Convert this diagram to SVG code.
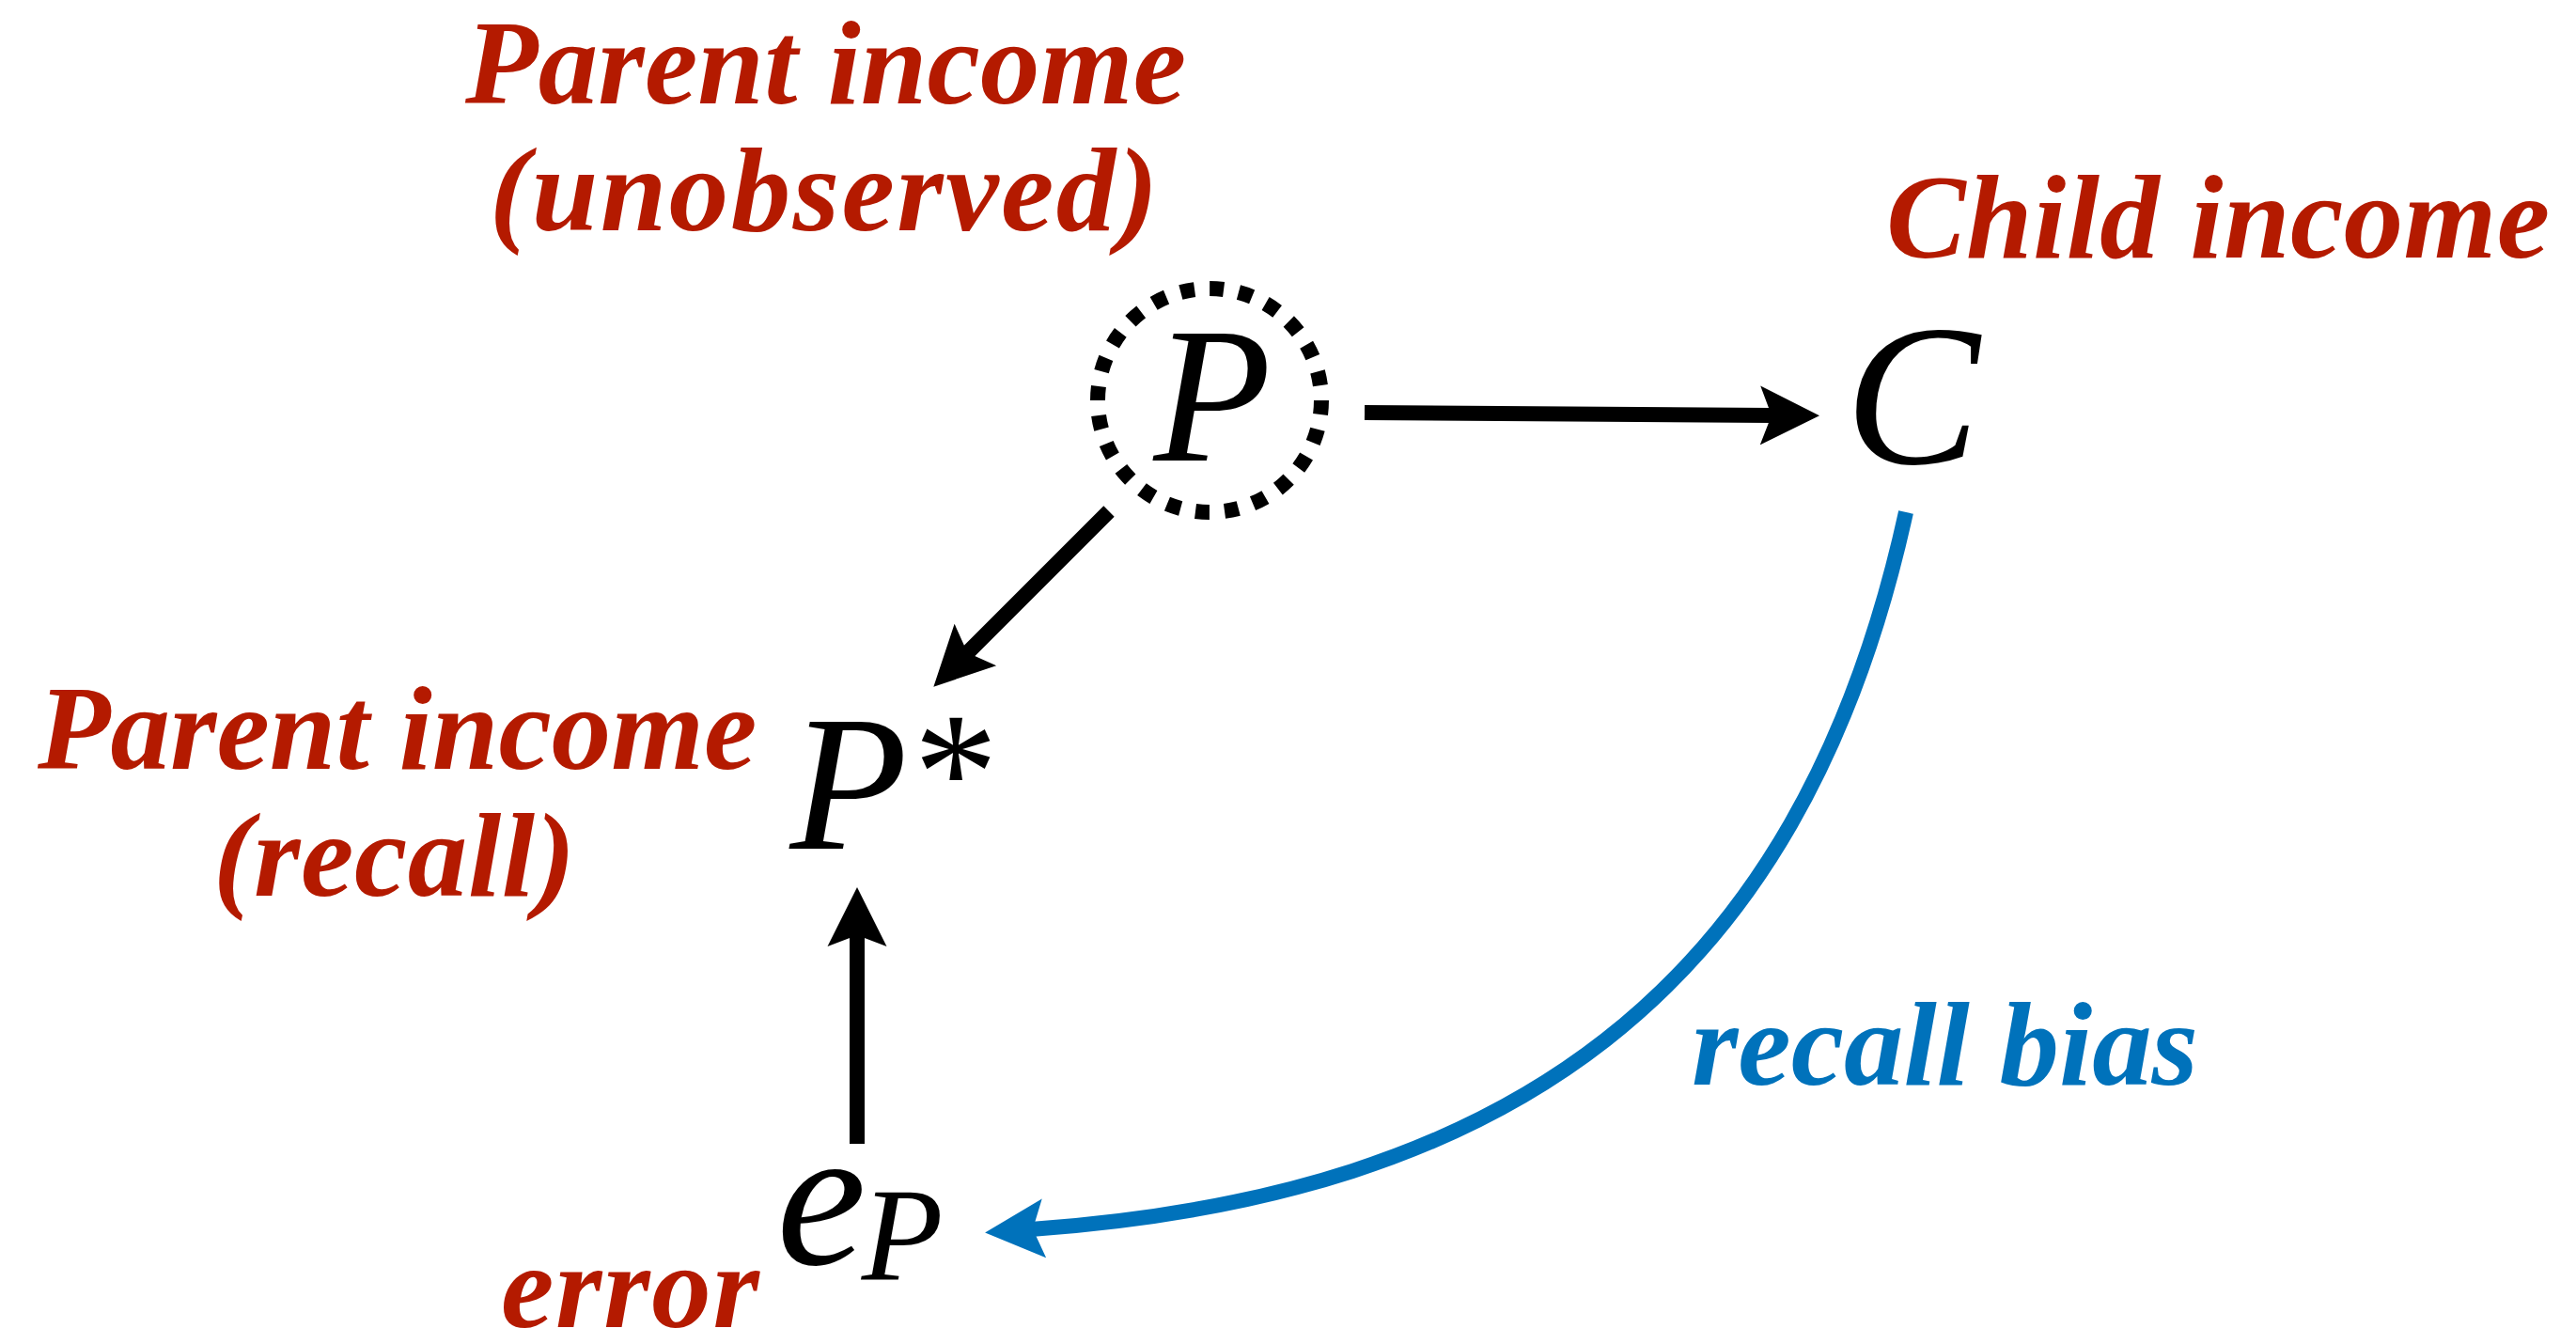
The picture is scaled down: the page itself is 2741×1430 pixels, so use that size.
<svg xmlns="http://www.w3.org/2000/svg" width="2741" height="1430" viewBox="0 0 2741 1430">
  <defs>
    <style>
      .lbl { font-family: "Liberation Serif", "Times New Roman", serif; font-weight: bold; font-style: italic; font-size: 127px; fill: #B41A00; }
      .blue { fill: #0072BB; }
      .math { font-family: "Liberation Serif", "Times New Roman", serif; font-style: italic; fill: #000; }
      .edge { fill: none; stroke: #000; stroke-width: 16; }
      .bias { fill: none; stroke: #0072BB; stroke-width: 16; }
    </style>
    <marker id="ahB" markerUnits="userSpaceOnUse" markerWidth="70" markerHeight="70" viewBox="0 -35 70 70" refX="14" refY="0" orient="auto">
      <path d="M0,-31.5 L63,0 L0,31.5 L12,0 Z" fill="#000"/>
    </marker>
    <marker id="ahU" markerUnits="userSpaceOnUse" markerWidth="70" markerHeight="70" viewBox="0 -35 70 70" refX="14" refY="0" orient="auto">
      <path d="M0,-31.5 L63,0 L0,31.5 L12,0 Z" fill="#0072BB"/>
    </marker>
  </defs>
  <rect width="2741" height="1430" fill="#fff"/>

  <g id="connectors">
    <path class="edge" d="M1452,439 L1887,442" marker-end="url(#ahB)"/>
    <path class="edge" d="M1180,544 L1028,696" marker-end="url(#ahB)"/>
    <path class="edge" d="M912,1217 L912,993" marker-end="url(#ahB)"/>
    <path class="bias" d="M2028,545 C1915,1060 1600,1272 1097,1308" marker-end="url(#ahU)"/>
  </g>

  <g id="node-P">
    <circle cx="1287" cy="426" r="119" fill="none" stroke="#000" stroke-width="16" stroke-dasharray="15 16.15"/>
    <text class="math" x="1290" y="490" font-size="205" text-anchor="middle">P</text>
    <text class="lbl" x="495" y="110" textLength="767">Parent income</text>
    <text class="lbl" x="521" y="245" textLength="711">(unobserved)</text>
  </g>

  <g id="node-C">
    <text class="math" x="2035" y="493" font-size="215" text-anchor="middle">C</text>
    <text class="lbl" x="2007" y="274" textLength="706">Child income</text>
  </g>

  <g id="node-Pstar">
    <text class="math" x="903" y="903" font-size="205" text-anchor="middle">P</text>
    <text x="1017" y="882" font-family="Liberation Serif, serif" font-size="180" text-anchor="middle" fill="#000">*</text>
    <text class="lbl" x="40" y="818">Parent income</text>
    <text class="lbl" x="227" y="953" textLength="385">(recall)</text>
  </g>

  <g id="node-eP">
    <text class="math" x="874" y="1345" font-size="215" text-anchor="middle">e</text>
    <text class="math" x="960" y="1362" font-size="142" text-anchor="middle">P</text>
    <text class="lbl" x="533" y="1412" textLength="275">error</text>
  </g>

  <g id="label-bias">
    <text class="lbl blue" x="1800" y="1154" textLength="539">recall bias</text>
  </g>
</svg>
